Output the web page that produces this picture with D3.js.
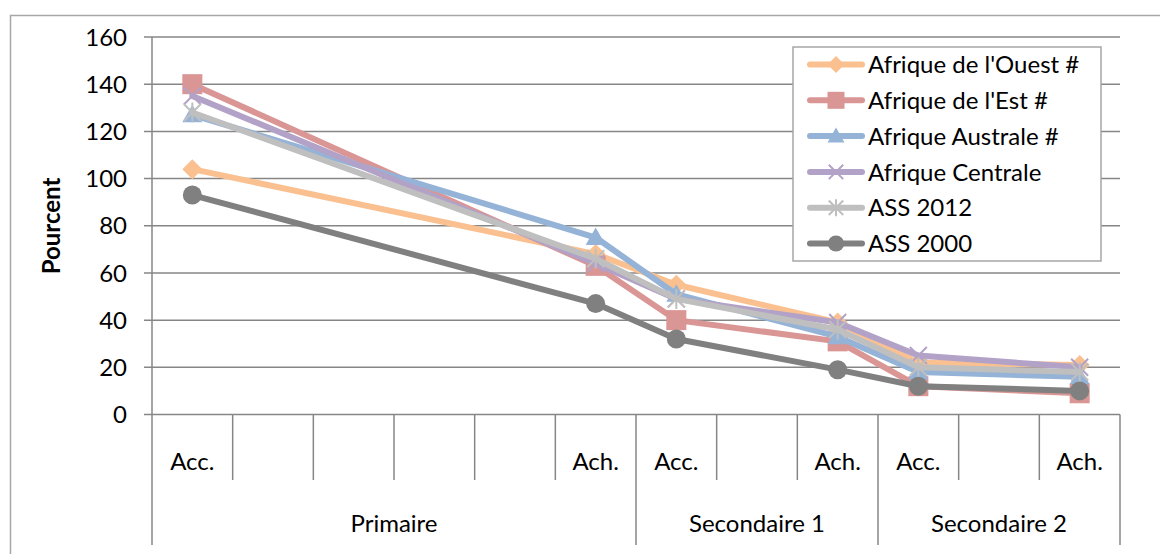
<!DOCTYPE html>
<html><head><meta charset="utf-8">
<script src="https://cdn.jsdelivr.net/npm/d3@7"></script>
<style>
html,body{margin:0;padding:0;background:#fff;}
svg text{font-family:Lato,"Open Sans",sans-serif;fill:#000;}
</style></head>
<body><svg id="c" width="1160" height="554"></svg>
<script>
const categories = ["Acc.","","","","","Ach.","Acc.","","Ach.","Acc.","","Ach."];
const groups = ["Primaire","Secondaire 1","Secondaire 2"];
const groupSizes = [6,3,3];
const yTicks = [0,20,40,60,80,100,120,140,160];
const seriesNames = ["Afrique de l'Ouest #","Afrique de l'Est #","Afrique Australe #","Afrique Centrale","ASS 2012","ASS 2000"];
const ouest    = [104,null,null,null,null,68,55,null,39,22,null,21];
const est      = [140,null,null,null,null,63,40,null,31,12,null,9];
const australe = [127,null,null,null,null,75,51,null,33,18,null,16];
const centrale = [135,null,null,null,null,64,49,null,39,25,null,20];
const ass2012  = [128,null,null,null,null,66,49,null,36,20,null,18];
const ass2000  = [93,null,null,null,null,47,32,null,19,12,null,10];
const seriesValues = [ouest,est,australe,centrale,ass2012,ass2000];
const colors = ["#FAC090","#D99694","#95B3D7","#B3A2C7","#BFBFBF","#808080"];
const markers = ["diamond","square","triangle","x","star","circle"];

const FS = 24;
const svg = d3.select("#c");
const L=152,R=1120,T=37,B=414.5;
const axisCol="#868686";
svg.append("rect").attr("x",10.5).attr("y",15.5).attr("width",1200).attr("height",600)
  .attr("fill","#fff").attr("stroke","#A6A6A6").attr("stroke-width",1.5);

const x = d3.scaleBand().domain(d3.range(categories.length)).range([L,R]).padding(0);
const y = d3.scaleLinear().domain([0,160]).range([B,T]);

svg.append("g").selectAll("line").data(yTicks).join("line")
  .attr("x1",L-8).attr("x2",R).attr("y1",d=>y(d)).attr("y2",d=>y(d))
  .attr("stroke",axisCol).attr("stroke-width",1.5);
svg.append("g").selectAll("text").data(yTicks).join("text")
  .attr("x",127).attr("y",d=>y(d)).attr("dy","0.36em").attr("text-anchor","end")
  .attr("font-size",FS).text(d=>d);
svg.append("line").attr("x1",L).attr("x2",L).attr("y1",T).attr("y2",545)
  .attr("stroke",axisCol).attr("stroke-width",1.5);
svg.append("text").attr("transform","translate(60,226) rotate(-90)")
  .attr("text-anchor","middle").attr("font-size",FS).attr("font-weight","bold").text("Pourcent");

const bw = x.bandwidth();
const inner = d3.range(1,categories.length);
const groupBounds = [0];
groupSizes.forEach((s,i)=>groupBounds.push(groupBounds[i]+s));
svg.append("g").selectAll("line").data(inner).join("line")
  .attr("x1",i=>x(i)).attr("x2",i=>x(i)).attr("y1",B)
  .attr("y2",i=>groupBounds.includes(i)?545:480)
  .attr("stroke",axisCol).attr("stroke-width",1.5);
svg.append("line").attr("x1",R).attr("x2",R).attr("y1",B).attr("y2",545)
  .attr("stroke",axisCol).attr("stroke-width",1.5);
svg.append("g").selectAll("text").data(categories).join("text")
  .attr("x",(d,i)=>x(i)+bw/2).attr("y",461).attr("dy","0.36em")
  .attr("text-anchor","middle").attr("font-size",FS).text(d=>d);
svg.append("g").selectAll("text").data(groups).join("text")
  .attr("x",(d,i)=>(x(groupBounds[i])+ (groupBounds[i+1]<categories.length? x(groupBounds[i+1]) : R))/2)
  .attr("y",523).attr("dy","0.36em").attr("text-anchor","middle").attr("font-size",FS).text(d=>d);

function drawMarker(g,type,cx,cy,col,s){
  s = s||20;
  const h=s/2;
  if(type==="diamond"){
    g.append("path").attr("d",`M${cx},${cy-h}L${cx+h},${cy}L${cx},${cy+h}L${cx-h},${cy}Z`).attr("fill",col);
  } else if(type==="square"){
    g.append("rect").attr("x",cx-h).attr("y",cy-h).attr("width",s).attr("height",s).attr("fill",col);
  } else if(type==="triangle"){
    g.append("path").attr("d",`M${cx},${cy-h}L${cx+h},${cy+h*0.75}L${cx-h},${cy+h*0.75}Z`).attr("fill",col);
  } else if(type==="circle"){
    g.append("circle").attr("cx",cx).attr("cy",cy).attr("r",h*0.95).attr("fill",col);
  } else if(type==="x"){
    const k=h*0.85;
    g.append("path").attr("d",`M${cx-k},${cy-k}L${cx+k},${cy+k}M${cx-k},${cy+k}L${cx+k},${cy-k}`)
      .attr("stroke",col).attr("stroke-width",2).attr("fill","none");
  } else if(type==="star"){
    const k=h*0.85;
    g.append("path").attr("d",`M${cx-k},${cy-k}L${cx+k},${cy+k}M${cx-k},${cy+k}L${cx+k},${cy-k}M${cx},${cy-h}L${cx},${cy+h}`)
      .attr("stroke",col).attr("stroke-width",2).attr("fill","none");
  }
}

const line = d3.line().x(d=>x(d.i)+bw/2).y(d=>y(d.v));
seriesValues.forEach((vals,si)=>{
  const pts = vals.map((v,i)=>({i,v})).filter(d=>d.v!==null);
  const g = svg.append("g");
  g.append("path").attr("d",line(pts)).attr("fill","none").attr("stroke",colors[si])
    .attr("stroke-width",6).attr("stroke-linejoin","round").attr("stroke-linecap","round");
  pts.forEach(p=>drawMarker(g,markers[si],x(p.i)+bw/2,y(p.v),colors[si],20));
});

const lg = svg.append("g");
lg.append("rect").attr("x",793).attr("y",47).attr("width",308).attr("height",214)
  .attr("fill","#fff").attr("stroke","#A6A6A6").attr("stroke-width",1.5);
seriesNames.forEach((n,i)=>{
  const cy = 64.5 + i*35.8;
  lg.append("line").attr("x1",810).attr("x2",862).attr("y1",cy).attr("y2",cy)
    .attr("stroke",colors[i]).attr("stroke-width",6).attr("stroke-linecap","round");
  drawMarker(lg,markers[i],836,cy,colors[i],17);
  lg.append("text").attr("x",868).attr("y",cy).attr("dy","0.36em").attr("font-size",FS).text(n);
});
</script></body></html>
